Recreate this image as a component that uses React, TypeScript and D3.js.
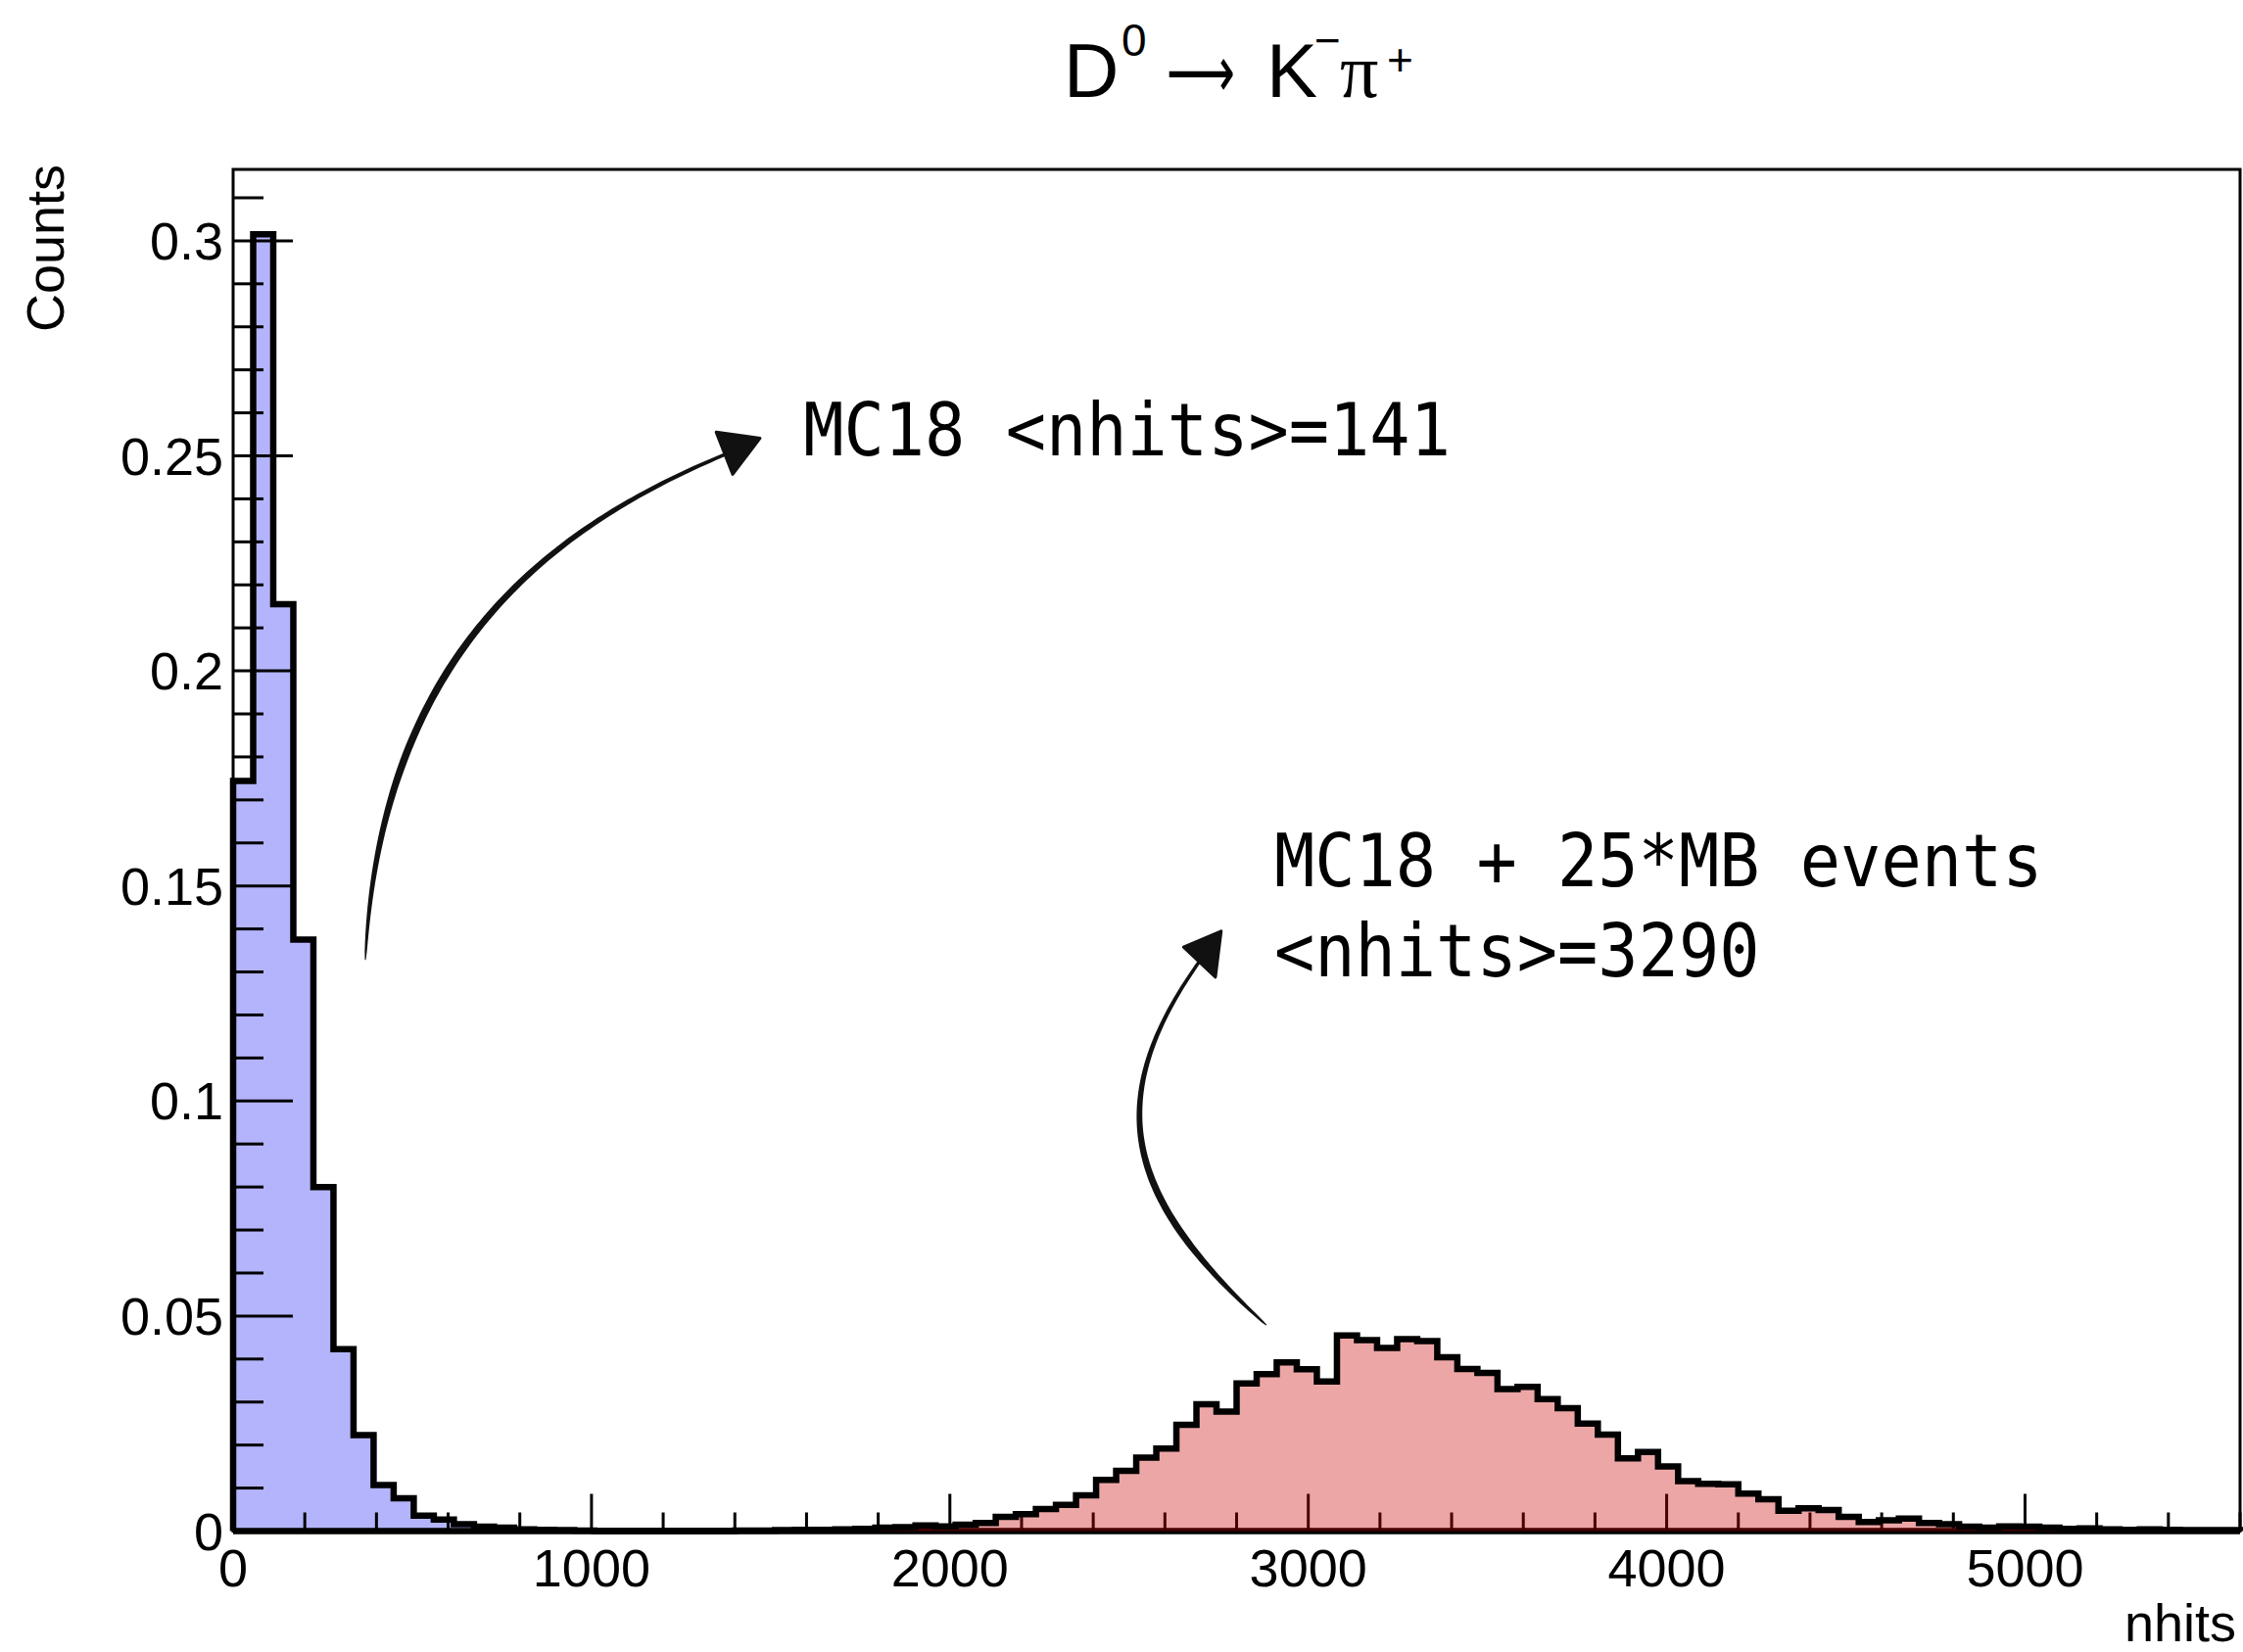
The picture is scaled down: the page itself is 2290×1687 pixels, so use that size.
import React from 'react';
import * as d3 from 'd3';

const W = 2290;
const H = 1687;

// ---------------- data ----------------
const binWidth = 56;
const xMax = 5600;
const yMax = 0.3166;

// MC18 (blue), 100 bins of 56 hits
const mc18Counts = [
  0.1744, 0.3015, 0.2155, 0.1375, 0.0800, 0.0423, 0.0223, 0.0107, 0.0076, 0.0036,
  0.0027, 0.0016, 0.0010, 0.0008, 0.0004, 0.0003, 0.0002, 0.0001, 0, 0,
  0, 0, 0, 0, 0, 0, 0, 0, 0, 0,
  0, 0, 0, 0, 0, 0, 0, 0, 0, 0,
  0, 0, 0, 0, 0, 0, 0, 0, 0, 0,
  0, 0, 0, 0, 0, 0, 0, 0, 0, 0,
  0, 0, 0, 0, 0, 0, 0, 0, 0, 0,
  0, 0, 0, 0, 0, 0, 0, 0, 0, 0,
  0, 0, 0, 0, 0, 0, 0, 0, 0, 0,
  0, 0, 0, 0, 0, 0, 0, 0, 0, 0,
];

// MC18 + 25*MB events (red)
const pileupCounts = [
  0, 0, 0, 0, 0, 0, 0, 0, 0, 0,
  0, 0, 0, 0, 0, 0, 0, 0, 0, 0,
  0, 0, 0, 0, 0, 0.0001, 0.0001, 0.0002, 0.0003, 0.0003,
  0.0004, 0.0005, 0.0008, 0.0009, 0.0013, 0.0011, 0.0015, 0.0019, 0.0033, 0.0039,
  0.0051, 0.0061, 0.0083, 0.0119, 0.0140, 0.0171, 0.0192, 0.0247, 0.0295, 0.0278,
  0.0343, 0.0365, 0.0392, 0.0376, 0.0348, 0.0455, 0.0444, 0.0426, 0.0446, 0.0442,
  0.0404, 0.0377, 0.0368, 0.0330, 0.0335, 0.0307, 0.0286, 0.0250, 0.0224, 0.0169,
  0.0184, 0.0150, 0.0116, 0.0110, 0.0109, 0.0087, 0.0074, 0.0047, 0.0053, 0.0049,
  0.0033, 0.0021, 0.0025, 0.0029, 0.0019, 0.0016, 0.0010, 0.0008, 0.0011, 0.0010,
  0.0008, 0.0005, 0.0006, 0.0004, 0.0003, 0.0004, 0.0003, 0.0002, 0.0002, 0.0002,
];

const xMajorTicks = [0, 1000, 2000, 3000, 4000, 5000];
const xTickLabels = ['0', '1000', '2000', '3000', '4000', '5000'];
const xMinorStep = 200;
const yMajorTicks = [0, 0.05, 0.1, 0.15, 0.2, 0.25, 0.3];
const yTickLabels = ['0', '0.05', '0.1', '0.15', '0.2', '0.25', '0.3'];
const yMinorStep = 0.01;

const titleText = { d: 'D', sup0: '0', arrow: '\u27F6', k: 'K', minus: '\u2212', pi: '\u03C0', plus: '+' };
const xTitle = 'nhits';
const yTitle = 'Counts';

// annotations in data coordinates
const annotations = [
  { lines: ['MC18 <nhits>=141'], x: 1591, y: 0.2501 },
  { lines: ['MC18 + 25*MB events', '<nhits>=3290'], x: 2905, y: 0.1499 },
];
const arrows = [
  {
    p: [[369, 0.1328], [410, 0.2045], [894, 0.2337], [1372, 0.2503]],
    head: [[1470, 0.2541], [1348, 0.2555], [1394, 0.2457]],
    w: 6.5,
  },
  {
    p: [[2883, 0.0479], [2496, 0.0769], [2415, 0.0994], [2696, 0.1324]],
    head: [[2757, 0.1395], [2652, 0.1358], [2741, 0.1288]],
    w: 6,
  },
];

// ---------------- layout ----------------
const frame = { left: 238, right: 2287, top: 173, bottom: 1563.5 };

const x = d3.scaleLinear().domain([0, xMax]).range([frame.left, frame.right]);
const y = d3.scaleLinear().domain([0, yMax]).range([frame.bottom, frame.top]);

function histPaths(values: number[]) {
  const pts: [number, number][] = [[0, 0]];
  values.forEach((v, k) => {
    pts.push([k * binWidth, v]);
    pts.push([(k + 1) * binWidth, v]);
  });
  pts.push([values.length * binWidth, 0]);
  const line = d3.line<[number, number]>().x((d) => x(d[0])).y((d) => y(d[1]));
  const area = d3
    .area<[number, number]>()
    .x((d) => x(d[0]))
    .y0(y(0))
    .y1((d) => y(d[1]));
  return { line: line(pts) || '', area: area(pts) || '' };
}

function brush(p: number[][], wMax: number) {
  const P = p.map((q) => [x(q[0]), y(q[1])]);
  const N = 100;
  const left: [number, number][] = [];
  const right: [number, number][] = [];
  for (let i = 0; i <= N; i++) {
    const t = i / N;
    const a = (1 - t) ** 3, b = 3 * (1 - t) ** 2 * t, c = 3 * (1 - t) * t * t, e = t ** 3;
    const px = a * P[0][0] + b * P[1][0] + c * P[2][0] + e * P[3][0];
    const py = a * P[0][1] + b * P[1][1] + c * P[2][1] + e * P[3][1];
    const dx = 3 * (1 - t) ** 2 * (P[1][0] - P[0][0]) + 6 * (1 - t) * t * (P[2][0] - P[1][0]) + 3 * t * t * (P[3][0] - P[2][0]);
    const dy = 3 * (1 - t) ** 2 * (P[1][1] - P[0][1]) + 6 * (1 - t) * t * (P[2][1] - P[1][1]) + 3 * t * t * (P[3][1] - P[2][1]);
    const len = Math.hypot(dx, dy) || 1;
    const nx = -dy / len, ny = dx / len;
    const rise = Math.min(1, t / 0.25);
    const fall = 1 - 0.6 * Math.max(0, (t - 0.4) / 0.6);
    const w = 1 + wMax * Math.sqrt(rise) * fall;
    left.push([px + (nx * w) / 2, py + (ny * w) / 2]);
    right.push([px - (nx * w) / 2, py - (ny * w) / 2]);
  }
  const poly = left.concat(right.reverse());
  return (d3.line()(poly) || '') + 'Z';
}

export default function App() {
  const blue = histPaths(mc18Counts);
  const red = histPaths(pileupCounts);

  const xMinor = d3.range(0, xMax + 1, xMinorStep).filter((v) => !xMajorTicks.includes(v));
  const yMinor = d3
    .range(1, Math.floor(yMax / yMinorStep) + 1)
    .map((i) => +(i * yMinorStep).toFixed(2))
    .filter((v) => !yMajorTicks.some((m) => Math.abs(m - v) < 1e-9));

  const sans = 'Liberation Sans, Arial, Helvetica, sans-serif';
  const mono = 'DejaVu Sans Mono, monospace';
  const charW = 41.3;

  return (
    <svg
      width={W}
      height={H}
      viewBox={`0 0 ${W} ${H}`}
      style={{ position: 'absolute', left: 0, top: 0, background: '#fff' }}
      xmlns="http://www.w3.org/2000/svg"
    >
      <rect x={0} y={0} width={W} height={H} fill="#fff" />

      {/* blue histogram (drawn beneath axes) */}
      <path d={blue.area} fill="#b4b4fc" stroke="none" />
      <path d={blue.line} fill="none" stroke="#000" strokeWidth={6.5} strokeLinejoin="miter" />

      {/* ticks */}
      <g stroke="#000" strokeWidth={3}>
        {xMajorTicks.map((v) => (
          <line key={'xM' + v} x1={x(v)} x2={x(v)} y1={frame.bottom} y2={frame.bottom - 38} />
        ))}
        {xMinor.map((v) => (
          <line key={'xm' + v} x1={x(v)} x2={x(v)} y1={frame.bottom} y2={frame.bottom - 19} />
        ))}
        {yMajorTicks.map((v) => (
          <line key={'yM' + v} x1={frame.left} x2={frame.left + 61} y1={y(v)} y2={y(v)} />
        ))}
        {yMinor.map((v) => (
          <line key={'ym' + v} x1={frame.left} x2={frame.left + 31} y1={y(v)} y2={y(v)} />
        ))}
      </g>

      {/* frame */}
      <rect
        x={frame.left}
        y={frame.top}
        width={frame.right - frame.left}
        height={frame.bottom - frame.top}
        fill="none"
        stroke="#000"
        strokeWidth={3}
      />

      {/* red histogram (translucent, on top of axes) */}
      <path d={red.area} fill="rgb(204,0,0)" fillOpacity={0.35} stroke="none" />
      <path d={red.line} fill="none" stroke="#000" strokeWidth={6.5} strokeLinejoin="miter" />

      {/* tick labels */}
      <g fontFamily={sans} fontSize={54} fill="#000">
        {xMajorTicks.map((v, i) => (
          <text key={'xl' + v} x={x(v)} y={1620} textAnchor="middle">
            {xTickLabels[i]}
          </text>
        ))}
        {yMajorTicks.map((v, i) => (
          <text key={'yl' + v} x={228} y={y(v) + 19} textAnchor="end">
            {yTickLabels[i]}
          </text>
        ))}
        <text x={2283} y={1676} textAnchor="end">
          {xTitle}
        </text>
        <text transform="translate(65,168) rotate(-90)" textAnchor="end" fontSize={54}>
          {yTitle}
        </text>
      </g>

      {/* title */}
      <g fontFamily={sans} fill="#000">
        <text x={1086} y={99} fontSize={78}>{titleText.d}</text>
        <text x={1145} y={57} fontSize={46}>{titleText.sup0}</text>
        <text
          x={1191}
          y={99}
          fontSize={74}
          fontFamily="DejaVu Sans, sans-serif"
          textLength={70}
          lengthAdjust="spacingAndGlyphs"
        >
          {titleText.arrow}
        </text>
        <text x={1293} y={99} fontSize={78}>{titleText.k}</text>
        <text x={1342} y={57} fontSize={46}>{titleText.minus}</text>
        <text x={1368} y={99} fontSize={78} fontFamily="Liberation Serif, serif">{titleText.pi}</text>
        <text x={1416} y={77} fontSize={46}>{titleText.plus}</text>
      </g>

      {/* annotations */}
      <g fontFamily={mono} fontSize={74} fill="#000">
        {annotations.map((a, i) =>
          a.lines.map((ln, j) => (
            <text
              key={`a${i}-${j}`}
              x={x(a.x)}
              y={y(a.y) + j * 92}
              textLength={ln.length * charW}
              lengthAdjust="spacingAndGlyphs"
            >
              {ln}
            </text>
          ))
        )}
      </g>

      {/* hand-drawn arrows */}
      <g fill="#111">
        {arrows.map((a, i) => (
          <g key={'arr' + i}>
            <path d={brush(a.p, a.w)} />
            <path
              d={(d3.line()(a.head.map((q) => [x(q[0]), y(q[1])] as [number, number])) || '') + 'Z'}
              stroke="#111"
              strokeWidth={3}
              strokeLinejoin="round"
            />
          </g>
        ))}
      </g>
    </svg>
  );
}
